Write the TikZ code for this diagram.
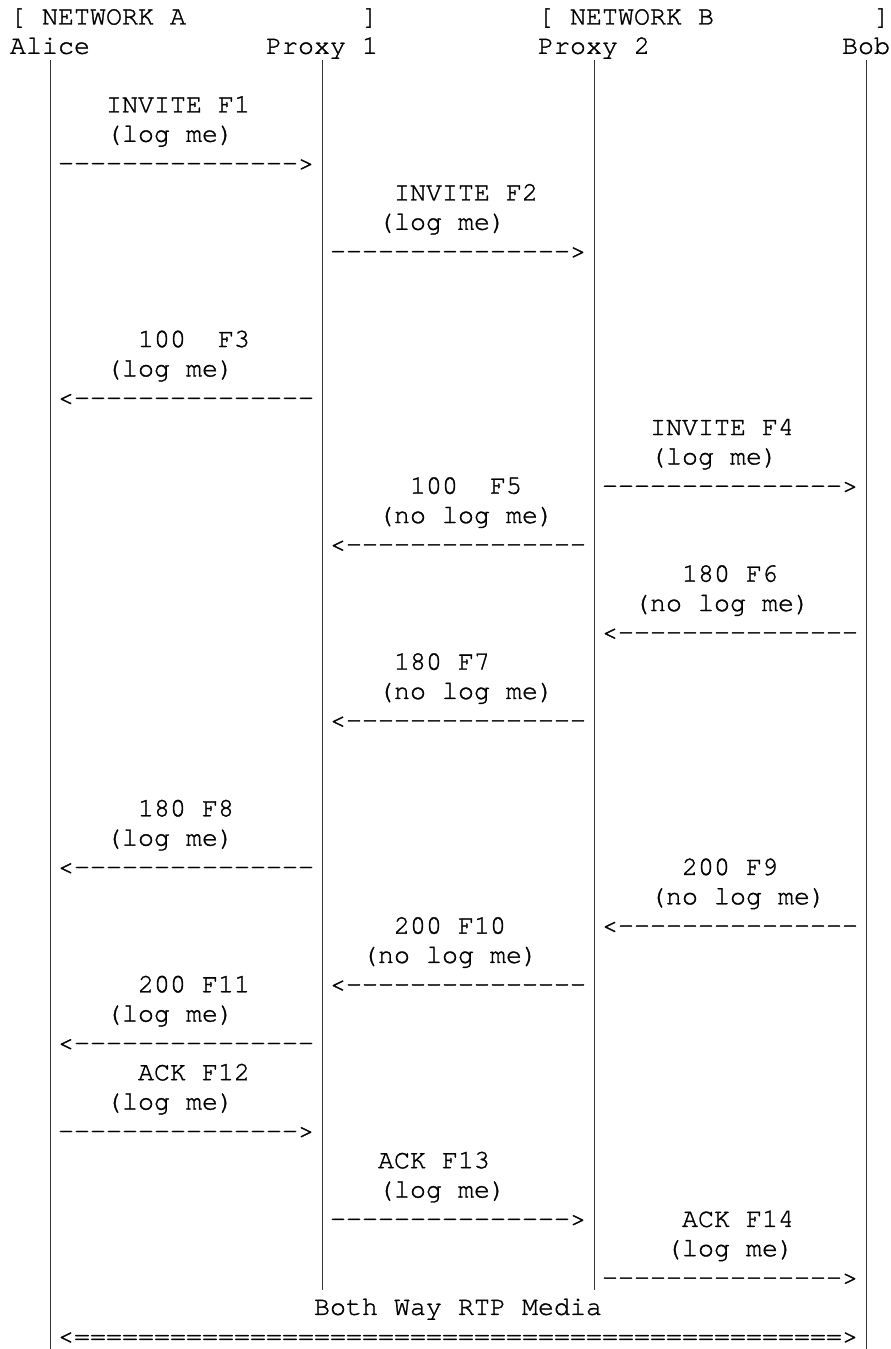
\documentclass[tikz,border=0pt]{standalone}
\usepackage{fontspec}
\setmonofont{texgyrecursor-regular.otf}[FakeBold=1.2]
\newcommand\lbl[4]{\node (#1) at ({#2+0.625},{#3-0.165}) {#4};}
\newcommand\rdash{--------------->}
\newcommand\ldash{<---------------}
\begin{document}
\begin{tikzpicture}[x=8pt,y=-14.663pt,
  every node/.style={font=\ttfamily\fontsize{13.333pt}{14pt}\selectfont,
    anchor=base west, inner sep=0pt, outer sep=0pt, text=black},
  lifeline/.style={line width=0.5pt, black!80}]
\useasboundingbox (0,0) rectangle (55.625,46);
% headers
\lbl{netA}{0}{1}{[ NETWORK A\hspace{88pt}]}
\lbl{netB}{33}{1}{[ NETWORK B\hspace{80pt}]}
\lbl{alice}{0}{2}{Alice}
\lbl{proxyA}{16}{2}{Proxy 1}
\lbl{proxyB}{33}{2}{Proxy 2}
\lbl{bob}{52}{2}{Bob}
% lifelines
\coordinate (aliceTop) at (3.125,2.04);
\coordinate (aliceEnd) at (3.125,46);
\coordinate (pATop) at (20.125,2.04);
\coordinate (pAEnd) at (20.125,44);
\coordinate (pBTop) at (37.125,2.04);
\coordinate (pBEnd) at (37.125,44);
\coordinate (bobTop) at (54.125,2.04);
\coordinate (bobEnd) at (54.125,46);
\draw[lifeline] (aliceTop) -- (aliceEnd);
\draw[lifeline] (pATop) -- (pAEnd);
\draw[lifeline] (pBTop) -- (pBEnd);
\draw[lifeline] (bobTop) -- (bobEnd);
% F1
\lbl{f1a}{6}{4}{INVITE F1}
\lbl{f1b}{6}{5}{(log me)}
\lbl{f1}{3}{6}{\rdash}
% F2
\lbl{f2a}{24}{7}{INVITE F2}
\lbl{f2b}{23}{8}{(log me)}
\lbl{f2}{20}{9}{\rdash}
% F3
\lbl{f3a}{8}{12}{100~~F3}
\lbl{f3b}{6}{13}{(log me)}
\lbl{f3}{3}{14}{\ldash}
% F4
\lbl{f4a}{40}{15}{INVITE F4}
\lbl{f4b}{40}{16}{(log me)}
\lbl{f4}{37}{17}{\rdash}
% F5
\lbl{f5a}{25}{17}{100~~F5}
\lbl{f5b}{23}{18}{(no log me)}
\lbl{f5}{20}{19}{\ldash}
% F6
\lbl{f6a}{42}{20}{180 F6}
\lbl{f6b}{39}{21}{(no log me)}
\lbl{f6}{37}{22}{\ldash}
% F7
\lbl{f7a}{24}{23}{180 F7}
\lbl{f7b}{23}{24}{(no log me)}
\lbl{f7}{20}{25}{\ldash}
% F8
\lbl{f8a}{8}{28}{180 F8}
\lbl{f8b}{6}{29}{(log me)}
\lbl{f8}{3}{30}{\ldash}
% F9
\lbl{f9a}{42}{30}{200 F9}
\lbl{f9b}{40}{31}{(no log me)}
\lbl{f9}{37}{32}{\ldash}
% F10
\lbl{f10a}{24}{32}{200 F10}
\lbl{f10b}{22}{33}{(no log me)}
\lbl{f10}{20}{34}{\ldash}
% F11
\lbl{f11a}{8}{34}{200 F11}
\lbl{f11b}{6}{35}{(log me)}
\lbl{f11}{3}{36}{\ldash}
% F12
\lbl{f12a}{8}{37}{ACK F12}
\lbl{f12b}{6}{38}{(log me)}
\lbl{f12}{3}{39}{\rdash}
% F13
\lbl{f13a}{23}{40}{ACK F13}
\lbl{f13b}{23}{41}{(log me)}
\lbl{f13}{20}{42}{\rdash}
% F14
\lbl{f14a}{42}{42}{ACK F14}
\lbl{f14b}{41}{43}{(log me)}
\lbl{f14}{37}{44}{\rdash}
% media
\lbl{media}{19}{45}{Both Way RTP Media}
\lbl{rtp}{3}{46}{<================================================>}
\end{tikzpicture}
\end{document}
